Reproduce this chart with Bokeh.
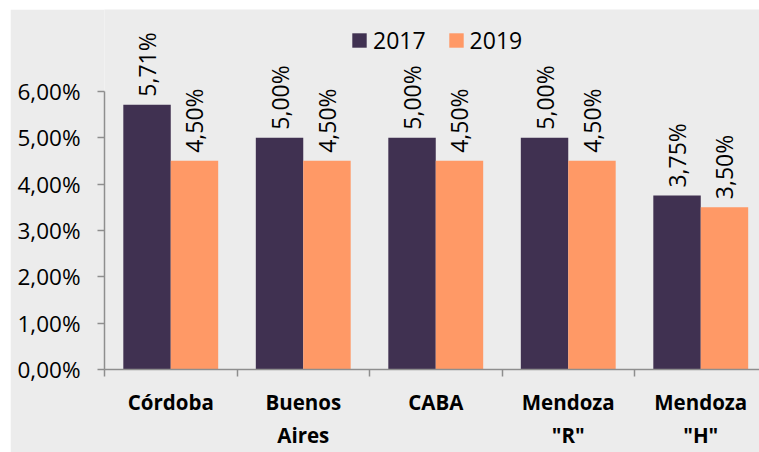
from bokeh.plotting import figure
from bokeh.models import FixedTicker, LinearAxis, Range1d, Legend, LegendItem, ColumnDataSource
from bokeh.embed import file_html
from bokeh.resources import INLINE
from bokeh.core.properties import value

categories = ["Córdoba", "Buenos\nAires", "CABA", 'Mendoza\n"R"', 'Mendoza\n"H"']
v2017 = [5.71, 5.00, 5.00, 5.00, 3.75]
v2019 = [4.50, 4.50, 4.50, 4.50, 3.50]
y_ticks = [0, 1, 2, 3, 4, 5, 6]
y_tick_labels = ["0,00%", "1,00%", "2,00%", "3,00%", "4,00%", "5,00%", "6,00%"]

FONT = "Open Sans"
BG = "#ECECEC"
AXIS = "#8E8E8E"
C2017 = "#403151"
C2019 = "#FF9966"

def fmt(v):
    return f"{v:.2f}".replace(".", ",") + "%"

n = len(categories)
centers = [i + 0.5 for i in range(n)]
bw = 0.358
src17 = ColumnDataSource(dict(x=[c - bw / 2 for c in centers], top=v2017,
                              lab=[fmt(v) for v in v2017]))
src19 = ColumnDataSource(dict(x=[c + bw / 2 for c in centers], top=v2019,
                              lab=[fmt(v) for v in v2019]))

W, H = 749, 443
LEFT, BOTTOM = 94, 82
p = figure(width=W, height=H, output_backend="svg", toolbar_location=None,
           x_range=Range1d(0, (W - LEFT) / 132.5), y_range=Range1d(0, (H - BOTTOM) / 46.5),
           min_border_left=LEFT, min_border_right=0, min_border_top=0, min_border_bottom=BOTTOM,
           background_fill_color=BG, border_fill_color=BG, outline_line_color=None,
           x_axis_location=None, y_axis_location=None)
p.margin = (9, 0, 0, 10)
p.grid.visible = False

r17 = p.vbar(x="x", top="top", width=bw, source=src17, color=C2017, line_color=None)
r19 = p.vbar(x="x", top="top", width=bw, source=src19, color=C2019, line_color=None)

for s in (src17, src19):
    p.text(x="x", y="top", text="lab", source=s, angle=1.5708, text_align="left",
           text_baseline="middle", y_offset=-8, text_font=value(FONT),
           text_font_size="23px", text_color="#000000")

# y axis
yax = LinearAxis(ticker=FixedTicker(ticks=y_ticks), bounds=(0, 6))
yax.major_label_overrides = {t: l for t, l in zip(y_ticks, y_tick_labels)}
yax.axis_line_color = AXIS
yax.axis_line_width = 1.5
yax.major_tick_line_color = AXIS
yax.major_tick_line_width = 1.5
yax.major_tick_out = 7
yax.major_tick_in = 0
yax.minor_tick_line_color = None
yax.major_label_standoff = 17
yax.major_label_text_font = FONT
yax.major_label_text_font_size = "22.5px"
yax.major_label_text_color = "#000000"
p.add_layout(yax, "left")

# x axis (category labels, separators as minor ticks)
xax = LinearAxis(ticker=FixedTicker(ticks=centers, minor_ticks=list(range(n))))
xax.major_label_overrides = {c: l for c, l in zip(centers, categories)}
xax.axis_line_color = AXIS
xax.axis_line_width = 1.5
xax.major_tick_line_color = None
xax.major_tick_out = 0
xax.major_tick_in = 0
xax.minor_tick_line_color = AXIS
xax.minor_tick_line_width = 1.5
xax.minor_tick_out = 7
xax.minor_tick_in = 0
xax.major_label_standoff = 11
xax.major_label_text_font = FONT
xax.major_label_text_font_style = "bold"
xax.major_label_text_font_size = "20.5px"
xax.major_label_text_color = "#000000"
xax.major_label_text_line_height = 1.2
p.add_layout(xax, "below")

legend = Legend(items=[LegendItem(label="2017", renderers=[r17]),
                       LegendItem(label="2019", renderers=[r19])],
                orientation="horizontal", location=(246, 313),
                background_fill_alpha=0, border_line_color=None,
                glyph_width=18, glyph_height=18, label_standoff=5, spacing=21,
                padding=0, margin=0, label_text_font=FONT, label_text_font_size="23px",
                label_text_color="#000000")
p.add_layout(legend, "center")

open("out.html", "w").write(file_html(p, INLINE))
